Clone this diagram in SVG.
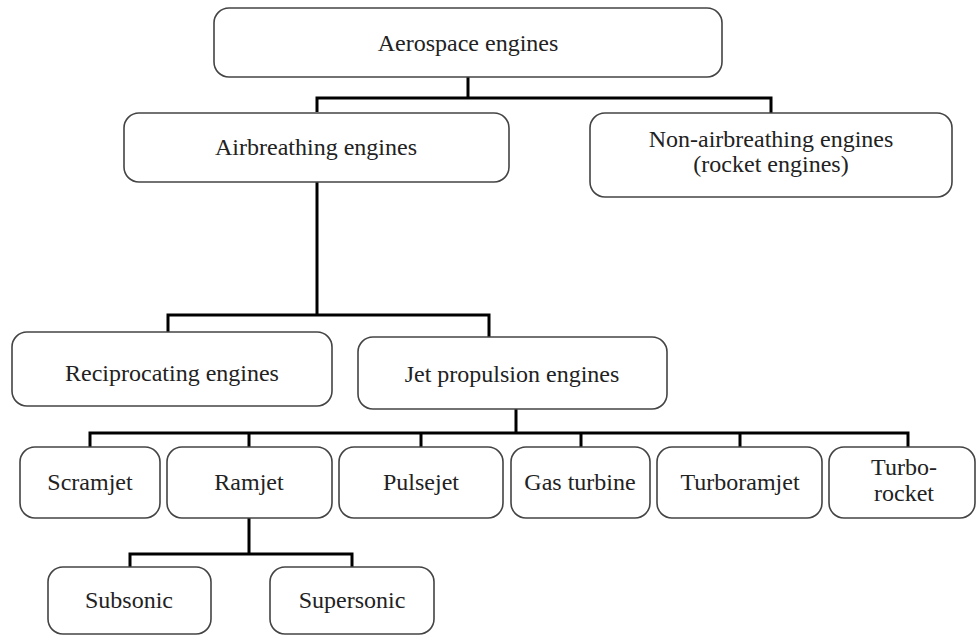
<svg xmlns="http://www.w3.org/2000/svg" width="976" height="636" viewBox="0 0 976 636">
<style>
.box{fill:#fff;stroke:#444;stroke-width:1.6}
.lbl{font-family:"Liberation Serif","Times New Roman",serif;font-size:24px;fill:#222;text-anchor:middle}
.con{fill:none;stroke:#000;stroke-width:3}
</style>
<rect width="976" height="636" fill="#fff"/>
<g id="connectors">
<path class="con" d="M468 77V98M317 112V98H771V113"/>
<path class="con" d="M317 182V315M168 332V315H489V337"/>
<path class="con" d="M516 409V433M90 447V433H908V447M249 433V447M421 433V447M581 433V447M740 433V447"/>
<path class="con" d="M249 518V554M130 567V554H352V567"/>
</g>
<g id="aerospace"><rect class="box" x="214" y="8" width="508" height="69" rx="15"/><text class="lbl" x="468" y="51">Aerospace engines</text></g>
<g id="airbreathing"><rect class="box" x="124" y="113" width="385" height="69" rx="15"/><text class="lbl" x="316" y="155">Airbreathing engines</text></g>
<g id="nonairbreathing"><rect class="box" x="590" y="113" width="362" height="84" rx="15"/><text class="lbl" x="771" y="147">Non-airbreathing engines</text><text class="lbl" x="771" y="172">(rocket engines)</text></g>
<g id="reciprocating"><rect class="box" x="12" y="332" width="320" height="74" rx="15"/><text class="lbl" x="172" y="381">Reciprocating engines</text></g>
<g id="jet"><rect class="box" x="358" y="337" width="309" height="72" rx="15"/><text class="lbl" x="512" y="382">Jet propulsion engines</text></g>
<g id="scramjet"><rect class="box" x="20" y="447" width="140" height="71" rx="15"/><text class="lbl" x="90" y="490">Scramjet</text></g>
<g id="ramjet"><rect class="box" x="167" y="447" width="165" height="71" rx="15"/><text class="lbl" x="249" y="490">Ramjet</text></g>
<g id="pulsejet"><rect class="box" x="339" y="447" width="164" height="71" rx="15"/><text class="lbl" x="421" y="490">Pulsejet</text></g>
<g id="gasturbine"><rect class="box" x="511" y="447" width="139" height="71" rx="15"/><text class="lbl" x="580" y="490">Gas turbine</text></g>
<g id="turboramjet"><rect class="box" x="657" y="447" width="165" height="71" rx="15"/><text class="lbl" x="740" y="490">Turboramjet</text></g>
<g id="turborocket"><rect class="box" x="829" y="447" width="146" height="71" rx="15"/><text class="lbl" x="904" y="475">Turbo-</text><text class="lbl" x="904" y="501">rocket</text></g>
<g id="subsonic"><rect class="box" x="48" y="567" width="163" height="67" rx="15"/><text class="lbl" x="129" y="608">Subsonic</text></g>
<g id="supersonic"><rect class="box" x="270" y="567" width="164" height="67" rx="15"/><text class="lbl" x="352" y="608">Supersonic</text></g>
</svg>
